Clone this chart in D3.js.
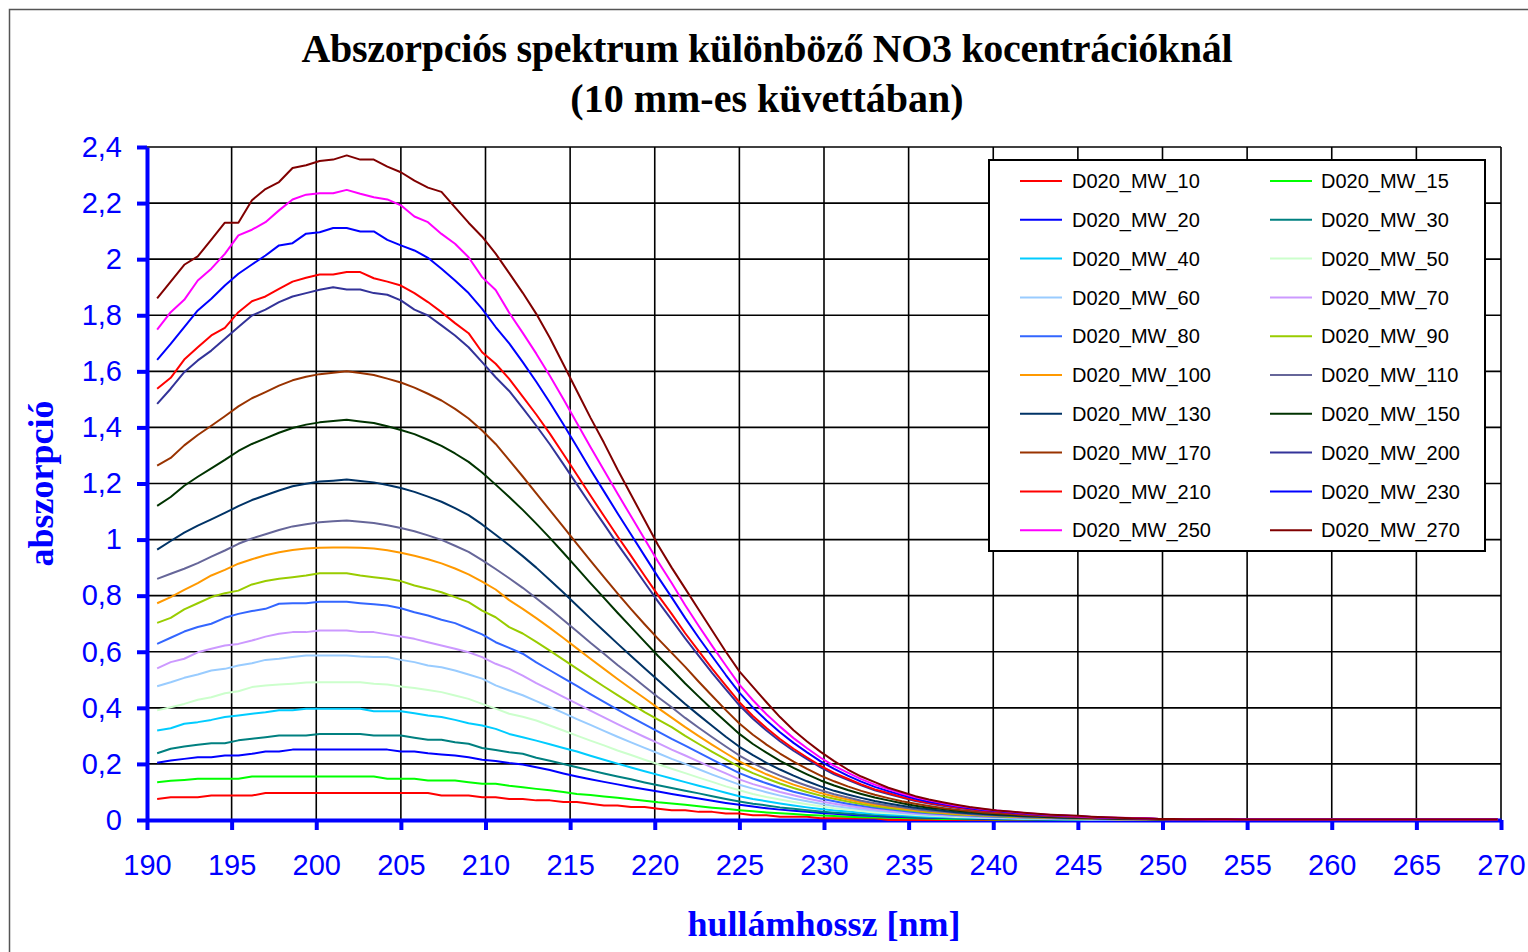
<!DOCTYPE html>
<html>
<head>
<meta charset="utf-8">
<script src="https://cdn.jsdelivr.net/npm/d3@7"></script>
<style>
  body { margin: 0; background: #fff; }
  svg { display: block; }
</style>
</head>
<body>
<svg id="chart"></svg>
<script>
// sample wavelengths of the spectrometer [nm]
const wavelengths = [
  190.6,191.4,192.2,193.0,193.8,194.6,195.4,196.2,197.0,197.8,
  198.6,199.4,200.2,201.0,201.8,202.6,203.4,204.2,205.0,205.8,
  206.6,207.4,208.2,209.0,209.8,210.6,211.4,212.2,213.0,213.8,
  214.6,215.4,216.2,217.0,217.8,218.6,219.4,220.2,221.0,221.8,
  222.6,223.4,224.2,225.0,225.8,226.6,227.4,228.2,229.0,229.8,
  230.6,231.4,232.2,233.0,233.8,234.6,235.4,236.2,237.0,237.8,
  238.6,239.4,240.2,241.0,241.8,242.6,243.4,244.2,245.0,245.8,
  246.6,247.4,248.2,249.0,249.8,250.6,251.4,252.2,253.0,253.8,
  254.6,255.4,256.2,257.0,257.8,258.6,259.4,260.2,261.0,261.8,
  262.6,263.4,264.2,265.0,265.8,266.6,267.4,268.2,269.0,269.8
];

const d10 = [
  0.075,0.081,0.081,0.081,0.087,0.087,0.087,0.087,0.096,0.096,
  0.096,0.096,0.096,0.096,0.096,0.096,0.096,0.096,0.096,0.096,
  0.096,0.087,0.087,0.087,0.081,0.081,0.075,0.075,0.070,0.070,
  0.064,0.064,0.058,0.052,0.052,0.046,0.046,0.040,0.035,0.035,
  0.029,0.029,0.023,0.023,0.017,0.017,0.012,0.012,0.012,0.006,
  0.006,0.006,0.006,0.006,0,0,0,0,0,0,
  0,0,0,0,0,0,0,0,0,0,
  0,0,0,0,0,0,0,0,0,0,
  0,0,0,0,0,0,0,0,0,0,
  0,0,0,0,0,0,0,0,0,0
];
const d15 = [
  0.135,0.140,0.143,0.147,0.147,0.147,0.147,0.155,0.155,0.155,
  0.155,0.155,0.155,0.155,0.155,0.155,0.155,0.147,0.147,0.147,
  0.141,0.141,0.141,0.135,0.129,0.129,0.122,0.117,0.111,0.106,
  0.100,0.093,0.089,0.084,0.079,0.074,0.069,0.063,0.059,0.054,
  0.049,0.044,0.040,0.035,0.031,0.027,0.024,0.021,0.018,0.016,
  0.014,0.012,0.010,0.009,0.008,0.007,0.006,0.005,0.004,0.004,
  0.003,0.003,0.002,0.002,0.002,0.001,0.001,0.001,0.001,0.001,
  0,0,0,0,0,0,0,0,0,0,
  0,0,0,0,0,0,0,0,0,0,
  0,0,0,0,0,0,0,0,0,0
];
const d20 = [
  0.204,0.212,0.218,0.224,0.224,0.230,0.230,0.236,0.244,0.244,
  0.251,0.251,0.251,0.251,0.251,0.251,0.251,0.251,0.244,0.244,
  0.238,0.234,0.230,0.224,0.215,0.210,0.203,0.198,0.188,0.178,
  0.166,0.155,0.145,0.136,0.127,0.118,0.110,0.102,0.093,0.085,
  0.077,0.069,0.061,0.054,0.048,0.042,0.037,0.033,0.029,0.025,
  0.022,0.019,0.016,0.014,0.012,0.011,0.009,0.008,0.007,0.006,
  0.005,0.004,0.004,0.003,0.003,0.002,0.002,0.002,0.002,0.001,
  0.001,0.001,0.001,0.001,0.001,0,0,0,0,0,
  0,0,0,0,0,0,0,0,0,0,
  0,0,0,0,0,0,0,0,0,0
];
const d30 = [
  0.238,0.254,0.262,0.268,0.274,0.274,0.284,0.290,0.295,0.301,
  0.301,0.301,0.307,0.307,0.307,0.307,0.301,0.301,0.301,0.293,
  0.286,0.286,0.277,0.272,0.257,0.250,0.242,0.236,0.222,0.211,
  0.200,0.188,0.177,0.166,0.155,0.145,0.134,0.124,0.114,0.104,
  0.095,0.085,0.075,0.066,0.058,0.052,0.045,0.040,0.035,0.030,
  0.026,0.023,0.020,0.017,0.015,0.013,0.011,0.010,0.008,0.007,
  0.006,0.005,0.005,0.004,0.003,0.003,0.002,0.002,0.002,0.002,
  0.001,0.001,0.001,0.001,0.001,0,0,0,0,0,
  0,0,0,0,0,0,0,0,0,0,
  0,0,0,0,0,0,0,0,0,0
];
const d40 = [
  0.319,0.327,0.343,0.349,0.357,0.367,0.373,0.379,0.384,0.391,
  0.391,0.397,0.397,0.397,0.397,0.397,0.388,0.388,0.388,0.381,
  0.373,0.367,0.357,0.345,0.337,0.325,0.307,0.295,0.283,0.270,
  0.257,0.244,0.229,0.215,0.201,0.187,0.174,0.161,0.148,0.135,
  0.122,0.110,0.097,0.085,0.075,0.067,0.059,0.052,0.045,0.039,
  0.034,0.030,0.026,0.022,0.019,0.017,0.014,0.012,0.011,0.009,
  0.008,0.007,0.006,0.005,0.004,0.004,0.003,0.003,0.002,0.002,
  0.002,0.001,0.001,0.001,0.001,0,0,0,0,0,
  0,0,0,0,0,0,0,0,0,0,
  0,0,0,0,0,0,0,0,0,0
];
const d50 = [
  0.391,0.402,0.414,0.429,0.438,0.452,0.459,0.474,0.480,0.483,
  0.486,0.490,0.491,0.491,0.491,0.491,0.486,0.483,0.476,0.471,
  0.464,0.456,0.444,0.432,0.414,0.397,0.379,0.368,0.355,0.337,
  0.319,0.301,0.283,0.266,0.248,0.232,0.215,0.199,0.183,0.167,
  0.151,0.136,0.120,0.106,0.093,0.082,0.073,0.064,0.056,0.049,
  0.042,0.037,0.032,0.027,0.024,0.021,0.018,0.015,0.013,0.011,
  0.010,0.008,0.007,0.006,0.005,0.005,0.004,0.003,0.003,0.002,
  0.002,0.002,0.001,0.001,0.001,0,0,0,0,0,
  0,0,0,0,0,0,0,0,0,0,
  0,0,0,0,0,0,0,0,0,0
];
const d60 = [
  0.477,0.491,0.507,0.519,0.533,0.539,0.551,0.559,0.571,0.575,
  0.581,0.587,0.587,0.587,0.587,0.583,0.581,0.581,0.571,0.563,
  0.551,0.545,0.533,0.519,0.504,0.480,0.462,0.445,0.424,0.403,
  0.382,0.360,0.339,0.318,0.297,0.277,0.257,0.238,0.218,0.200,
  0.181,0.162,0.144,0.126,0.112,0.099,0.087,0.076,0.067,0.058,
  0.050,0.044,0.038,0.033,0.029,0.025,0.021,0.018,0.016,0.014,
  0.012,0.010,0.009,0.008,0.006,0.006,0.005,0.004,0.004,0.003,
  0.002,0.002,0.002,0.001,0.001,0,0,0,0,0,
  0,0,0,0,0,0,0,0,0,0,
  0,0,0,0,0,0,0,0,0,0
];
const d70 = [
  0.541,0.563,0.575,0.598,0.611,0.622,0.628,0.640,0.654,0.664,
  0.670,0.670,0.676,0.676,0.676,0.670,0.670,0.662,0.654,0.646,
  0.634,0.622,0.611,0.598,0.581,0.557,0.539,0.515,0.488,0.464,
  0.439,0.415,0.390,0.366,0.342,0.319,0.296,0.274,0.251,0.230,
  0.208,0.187,0.166,0.145,0.128,0.114,0.100,0.088,0.077,0.067,
  0.058,0.051,0.044,0.038,0.033,0.028,0.024,0.021,0.018,0.016,
  0.014,0.011,0.010,0.009,0.007,0.006,0.005,0.005,0.004,0.003,
  0.003,0.002,0.002,0.002,0.001,0,0,0,0,0,
  0,0,0,0,0,0,0,0,0,0,
  0,0,0,0,0,0,0,0,0,0
];
const d80 = [
  0.628,0.650,0.672,0.688,0.700,0.721,0.735,0.745,0.753,0.771,
  0.773,0.773,0.778,0.778,0.778,0.773,0.769,0.765,0.755,0.741,
  0.729,0.714,0.702,0.682,0.662,0.634,0.614,0.593,0.562,0.534,
  0.506,0.478,0.449,0.421,0.394,0.367,0.341,0.315,0.289,0.265,
  0.240,0.215,0.191,0.167,0.148,0.131,0.115,0.101,0.089,0.077,
  0.067,0.058,0.051,0.044,0.038,0.033,0.028,0.024,0.021,0.018,
  0.016,0.013,0.012,0.010,0.009,0.007,0.006,0.005,0.005,0.004,
  0.003,0.003,0.002,0.002,0.002,0,0,0,0,0,
  0,0,0,0,0,0,0,0,0,0,
  0,0,0,0,0,0,0,0,0,0
];
const d90 = [
  0.703,0.721,0.751,0.773,0.795,0.809,0.818,0.840,0.852,0.860,
  0.866,0.872,0.880,0.880,0.880,0.872,0.866,0.860,0.852,0.836,
  0.825,0.812,0.795,0.777,0.747,0.723,0.688,0.665,0.635,0.604,
  0.572,0.540,0.508,0.476,0.445,0.415,0.385,0.358,0.331,0.300,
  0.271,0.243,0.216,0.189,0.167,0.148,0.130,0.114,0.100,0.087,
  0.076,0.066,0.057,0.049,0.043,0.037,0.032,0.027,0.024,0.020,
  0.018,0.015,0.013,0.011,0.010,0.008,0.007,0.006,0.005,0.004,
  0.004,0.003,0.003,0.002,0.002,0,0,0,0,0,
  0,0,0,0,0,0,0,0,0,0,
  0,0,0,0,0,0,0,0,0,0
];
const d100 = [
  0.773,0.795,0.821,0.845,0.872,0.892,0.914,0.930,0.944,0.955,
  0.963,0.968,0.971,0.972,0.972,0.971,0.968,0.962,0.953,0.942,
  0.930,0.915,0.897,0.876,0.850,0.822,0.784,0.753,0.720,0.685,
  0.649,0.612,0.575,0.539,0.503,0.468,0.434,0.399,0.365,0.331,
  0.299,0.268,0.238,0.209,0.185,0.163,0.144,0.126,0.111,0.096,
  0.084,0.073,0.063,0.054,0.048,0.041,0.035,0.030,0.026,0.022,
  0.019,0.017,0.015,0.013,0.011,0.009,0.008,0.007,0.006,0.005,
  0.004,0.003,0.003,0.002,0.002,0.001,0.001,0.001,0.001,0.001,
  0,0,0,0,0,0,0,0,0,0,
  0,0,0,0,0,0,0,0,0,0
];
const d110 = [
  0.860,0.878,0.896,0.916,0.939,0.961,0.985,1.004,1.019,1.034,
  1.047,1.055,1.062,1.065,1.068,1.064,1.059,1.051,1.041,1.030,
  1.015,0.999,0.978,0.956,0.927,0.895,0.862,0.828,0.791,0.753,
  0.713,0.673,0.632,0.593,0.553,0.515,0.476,0.438,0.402,0.364,
  0.329,0.295,0.262,0.230,0.203,0.179,0.158,0.139,0.122,0.106,
  0.092,0.080,0.069,0.060,0.052,0.045,0.038,0.033,0.029,0.025,
  0.021,0.018,0.016,0.014,0.012,0.010,0.009,0.007,0.006,0.005,
  0.004,0.004,0.003,0.003,0.002,0.001,0.001,0.001,0.001,0.001,
  0,0,0,0,0,0,0,0,0,0,
  0,0,0,0,0,0,0,0,0,0
];
const d130 = [
  0.964,0.995,1.025,1.050,1.072,1.095,1.119,1.141,1.158,1.175,
  1.190,1.199,1.207,1.210,1.214,1.209,1.204,1.195,1.184,1.170,
  1.153,1.135,1.112,1.087,1.054,1.017,0.980,0.941,0.900,0.856,
  0.811,0.765,0.719,0.674,0.629,0.585,0.541,0.498,0.456,0.414,
  0.374,0.335,0.297,0.261,0.231,0.204,0.180,0.158,0.138,0.120,
  0.104,0.091,0.079,0.068,0.059,0.051,0.044,0.038,0.033,0.028,
  0.024,0.021,0.018,0.016,0.013,0.012,0.010,0.008,0.007,0.006,
  0.005,0.004,0.004,0.003,0.002,0.001,0.001,0.001,0.001,0.001,
  0.001,0.001,0.001,0.001,0.001,0.001,0.001,0.001,0.001,0.001,
  0.001,0.001,0.001,0.001,0.001,0.001,0.001,0.001,0.001,0.001
];
const d150 = [
  1.120,1.152,1.192,1.224,1.254,1.284,1.316,1.341,1.361,1.381,
  1.398,1.410,1.418,1.423,1.427,1.421,1.416,1.404,1.391,1.376,
  1.356,1.334,1.307,1.277,1.239,1.196,1.152,1.106,1.057,1.006,
  0.953,0.899,0.845,0.792,0.739,0.688,0.636,0.585,0.537,0.487,
  0.440,0.394,0.350,0.307,0.271,0.240,0.211,0.186,0.163,0.141,
  0.123,0.107,0.093,0.080,0.070,0.060,0.051,0.044,0.039,0.033,
  0.029,0.024,0.021,0.019,0.016,0.014,0.011,0.010,0.009,0.007,
  0.006,0.005,0.004,0.004,0.003,0.002,0.002,0.002,0.001,0.001,
  0.001,0.001,0.001,0.001,0.001,0.001,0.001,0.001,0.001,0.001,
  0.001,0.001,0.001,0.001,0.001,0.001,0.001,0.001,0.001,0.001
];
const d170 = [
  1.264,1.291,1.336,1.373,1.406,1.440,1.475,1.504,1.526,1.549,
  1.568,1.581,1.590,1.595,1.600,1.594,1.587,1.574,1.560,1.542,
  1.520,1.496,1.466,1.432,1.389,1.341,1.283,1.225,1.165,1.105,
  1.045,0.985,0.925,0.866,0.808,0.752,0.698,0.646,0.596,0.546,
  0.493,0.442,0.392,0.344,0.304,0.269,0.237,0.208,0.182,0.158,
  0.138,0.120,0.104,0.090,0.078,0.067,0.058,0.050,0.043,0.037,
  0.032,0.027,0.024,0.021,0.018,0.015,0.013,0.011,0.010,0.008,
  0.006,0.006,0.005,0.004,0.003,0.002,0.002,0.002,0.001,0.001,
  0.001,0.001,0.001,0.001,0.001,0.001,0.001,0.001,0.001,0.001,
  0.001,0.001,0.001,0.001,0.001,0.001,0.001,0.001,0.001,0.001
];
const d200 = [
  1.484,1.538,1.597,1.639,1.674,1.716,1.758,1.799,1.820,1.847,
  1.867,1.879,1.891,1.900,1.892,1.892,1.879,1.873,1.853,1.820,
  1.799,1.764,1.728,1.686,1.633,1.579,1.530,1.469,1.406,1.340,
  1.269,1.197,1.125,1.055,0.984,0.916,0.847,0.779,0.714,0.648,
  0.585,0.524,0.466,0.409,0.361,0.319,0.281,0.247,0.217,0.188,
  0.163,0.143,0.124,0.106,0.093,0.080,0.068,0.059,0.051,0.044,
  0.038,0.032,0.029,0.025,0.021,0.018,0.015,0.013,0.011,0.010,
  0.008,0.007,0.006,0.005,0.004,0.003,0.003,0.002,0.002,0.002,
  0.002,0.002,0.002,0.002,0.002,0.002,0.002,0.002,0.002,0.002,
  0.002,0.002,0.002,0.002,0.002,0.002,0.002,0.002,0.002,0.002
];
const d210 = [
  1.538,1.577,1.642,1.686,1.728,1.755,1.811,1.850,1.867,1.894,
  1.920,1.934,1.945,1.945,1.954,1.954,1.932,1.920,1.906,1.879,
  1.847,1.811,1.772,1.736,1.668,1.627,1.573,1.510,1.446,1.378,
  1.305,1.231,1.157,1.084,1.012,0.942,0.871,0.801,0.735,0.666,
  0.602,0.539,0.479,0.420,0.371,0.328,0.289,0.254,0.223,0.193,
  0.168,0.147,0.127,0.109,0.096,0.082,0.070,0.061,0.053,0.045,
  0.039,0.033,0.029,0.025,0.021,0.019,0.016,0.014,0.012,0.010,
  0.008,0.007,0.006,0.005,0.004,0.003,0.003,0.002,0.002,0.002,
  0.002,0.002,0.002,0.002,0.002,0.002,0.002,0.002,0.002,0.002,
  0.002,0.002,0.002,0.002,0.002,0.002,0.002,0.002,0.002,0.002
];
const d230 = [
  1.641,1.698,1.758,1.817,1.859,1.906,1.948,1.981,2.013,2.049,
  2.057,2.091,2.096,2.111,2.111,2.099,2.099,2.069,2.049,2.031,
  2.005,1.966,1.924,1.879,1.823,1.758,1.700,1.633,1.563,1.489,
  1.411,1.331,1.250,1.172,1.094,1.018,0.942,0.866,0.794,0.720,
  0.650,0.583,0.517,0.454,0.401,0.355,0.313,0.275,0.241,0.209,
  0.182,0.158,0.137,0.118,0.103,0.089,0.076,0.065,0.057,0.049,
  0.042,0.036,0.032,0.027,0.023,0.020,0.017,0.015,0.013,0.011,
  0.008,0.007,0.006,0.005,0.004,0.003,0.003,0.002,0.002,0.002,
  0.002,0.002,0.002,0.002,0.002,0.002,0.002,0.002,0.002,0.002,
  0.002,0.002,0.002,0.002,0.002,0.002,0.002,0.002,0.002,0.002
];
const d250 = [
  1.749,1.811,1.855,1.924,1.966,2.019,2.085,2.105,2.132,2.174,
  2.213,2.230,2.235,2.235,2.247,2.233,2.221,2.213,2.192,2.152,
  2.132,2.090,2.055,2.007,1.936,1.890,1.809,1.737,1.663,1.584,
  1.501,1.416,1.330,1.247,1.164,1.083,1.002,0.921,0.845,0.766,
  0.692,0.620,0.551,0.483,0.427,0.377,0.333,0.292,0.256,0.222,
  0.193,0.169,0.146,0.126,0.110,0.094,0.081,0.070,0.061,0.052,
  0.045,0.038,0.034,0.029,0.025,0.021,0.018,0.016,0.013,0.011,
  0.009,0.008,0.007,0.006,0.004,0.003,0.003,0.003,0.002,0.002,
  0.002,0.002,0.002,0.002,0.002,0.002,0.002,0.002,0.002,0.002,
  0.002,0.002,0.002,0.002,0.002,0.002,0.002,0.002,0.002,0.002
];
const d270 = [
  1.860,1.920,1.980,2.010,2.070,2.130,2.130,2.210,2.250,2.275,
  2.325,2.335,2.350,2.355,2.370,2.355,2.355,2.330,2.310,2.280,
  2.255,2.240,2.185,2.130,2.080,2.020,1.950,1.880,1.805,1.720,
  1.625,1.530,1.435,1.345,1.250,1.160,1.070,0.980,0.900,0.825,
  0.750,0.675,0.600,0.530,0.475,0.420,0.367,0.320,0.280,0.243,
  0.210,0.180,0.155,0.135,0.115,0.100,0.085,0.073,0.063,0.054,
  0.046,0.040,0.034,0.030,0.026,0.022,0.019,0.017,0.015,0.012,
  0.010,0.008,0.006,0.005,0.004,0.004,0.003,0.003,0.003,0.003,
  0.002,0.002,0.002,0.002,0.002,0.002,0.002,0.002,0.002,0.002,
  0.002,0.002,0.002,0.002,0.002,0.002,0.002,0.002,0.002,0.002
];

const seriesNames = [
  'D020_MW_10', 'D020_MW_15', 'D020_MW_20', 'D020_MW_30', 'D020_MW_40',
  'D020_MW_50', 'D020_MW_60', 'D020_MW_70', 'D020_MW_80', 'D020_MW_90',
  'D020_MW_100', 'D020_MW_110', 'D020_MW_130', 'D020_MW_150', 'D020_MW_170',
  'D020_MW_200', 'D020_MW_210', 'D020_MW_230', 'D020_MW_250', 'D020_MW_270'
];
const seriesValues = [d10, d15, d20, d30, d40, d50, d60, d70, d80, d90,
  d100, d110, d130, d150, d170, d200, d210, d230, d250, d270];
const seriesColors = [
  '#FF0000', '#00FF00', '#0000FF', '#008080', '#00CCFF',
  '#CCFFCC', '#99CCFF', '#CC99FF', '#3366FF', '#99CC00',
  '#FF9900', '#666699', '#003366', '#003300', '#993300',
  '#333399', '#FF0000', '#0000FF', '#FF00FF', '#800000'
];

const xTicks = [190, 195, 200, 205, 210, 215, 220, 225, 230, 235, 240, 245, 250, 255, 260, 265, 270];
const yTicks = [0, 0.2, 0.4, 0.6, 0.8, 1, 1.2, 1.4, 1.6, 1.8, 2, 2.2, 2.4];

const titleLines = ['Abszorpciós spektrum különböző NO3 kocentrációknál', '(10 mm-es küvettában)'];
const xTitle = 'hullámhossz [nm]';
const yTitle = 'abszorpció';

class spectrumChart {

    constructor(_config) {
        this.config = {
            parentElement: _config.parentElement,
            containerWidth: _config.containerWidth || 1528,
            containerHeight: _config.containerHeight || 952,
        }
        this.config.margin = _config.margin || { top: 147, right: 27, bottom: 132, left: 147 };

        this.series = _config.series;

        this.width = this.config.containerWidth - this.config.margin.left - this.config.margin.right;
        this.height = this.config.containerHeight - this.config.margin.top - this.config.margin.bottom;

        this.svg = d3.select(this.config.parentElement)
            .attr('width', this.config.containerWidth)
            .attr('height', this.config.containerHeight);

        this.initVis();
    }

    initVis() {
        let vis = this;

        vis.xScale = d3.scaleLinear().domain([190, 270]).range([0, vis.width]);
        vis.yScale = d3.scaleLinear().domain([0, 2.4]).range([vis.height, 0]);

        // thin frame of the whole chart area
        vis.svg.append('rect')
            .attr('x', 9.5).attr('y', 9.5)
            .attr('width', 1540).attr('height', 960)
            .attr('fill', 'none')
            .attr('stroke', '#555')
            .attr('stroke-width', 1.5);

        vis.chart = vis.svg.append('g')
            .attr('transform', `translate(${vis.config.margin.left},${vis.config.margin.top})`);

        vis.render();
    }

    render() {
        let vis = this;
        const sans = "'Liberation Sans', Arial, sans-serif";
        const serif = "'Liberation Serif', 'Times New Roman', serif";

        // grid
        vis.chart.append('g').selectAll('line')
            .data(xTicks.slice(1))
            .join('line')
            .attr('x1', d => vis.xScale(d)).attr('x2', d => vis.xScale(d))
            .attr('y1', 0).attr('y2', vis.height)
            .attr('stroke', '#000').attr('stroke-width', 1.6);

        vis.chart.append('g').selectAll('line')
            .data(yTicks.slice(1))
            .join('line')
            .attr('x1', 0).attr('x2', vis.width)
            .attr('y1', d => vis.yScale(d)).attr('y2', d => vis.yScale(d))
            .attr('stroke', '#000').attr('stroke-width', 1.6);

        // axes
        let yAxis = d3.axisLeft(vis.yScale)
            .tickValues(yTicks)
            .tickSize(10)
            .tickSizeOuter(0)
            .tickPadding(15)
            .tickFormat(d => d3.format('.1~f')(d).replace('.', ','));

        let xAxis = d3.axisBottom(vis.xScale)
            .tickValues(xTicks)
            .tickSize(10)
            .tickSizeOuter(0)
            .tickPadding(24)
            .tickFormat(d3.format('d'));

        let styleAxis = g => {
            g.select('.domain').attr('stroke', '#0000FF').attr('stroke-width', 4);
            g.selectAll('.tick line').attr('stroke', '#0000FF').attr('stroke-width', 4);
            g.selectAll('.tick text')
                .attr('fill', '#0000FF')
                .style('font-family', sans)
                .style('font-size', '29px');
        };

        vis.chart.append('g').call(yAxis).call(styleAxis);
        vis.chart.append('g')
            .attr('transform', `translate(0,${vis.height})`)
            .call(xAxis).call(styleAxis);

        // spectra, drawn in legend order so D020_MW_270 ends on top
        let line = d3.line()
            .x((d, i) => vis.xScale(wavelengths[i]))
            .y(d => vis.yScale(d));

        vis.chart.append('g').selectAll('path')
            .data(vis.series)
            .join('path')
            .attr('d', d => line(d.values.slice(0, wavelengths.length)))
            .attr('fill', 'none')
            .attr('stroke', d => d.color)
            .attr('stroke-width', 2)
            .attr('stroke-linejoin', 'round');

        // titles
        vis.svg.append('g').selectAll('text')
            .data(titleLines)
            .join('text')
            .attr('x', 767)
            .attr('y', (d, i) => 62 + i * 50)
            .attr('text-anchor', 'middle')
            .attr('textLength', (d, i) => i === 0 ? 931 : null)
            .attr('lengthAdjust', 'spacing')
            .style('font-family', serif)
            .style('font-weight', 'bold')
            .style('font-size', '40px')
            .attr('fill', '#000')
            .text(d => d);

        vis.svg.append('text')
            .attr('x', vis.config.margin.left + vis.width / 2)
            .attr('y', 936)
            .attr('text-anchor', 'middle')
            .style('font-family', serif)
            .style('font-weight', 'bold')
            .style('font-size', '36px')
            .attr('fill', '#0000FF')
            .text(xTitle);

        vis.svg.append('text')
            .attr('transform', `translate(53,${vis.config.margin.top + vis.height / 2}) rotate(-90)`)
            .attr('text-anchor', 'middle')
            .style('font-family', serif)
            .style('font-weight', 'bold')
            .style('font-size', '36px')
            .attr('fill', '#0000FF')
            .text(yTitle);

        // legend box, two columns
        let legend = vis.svg.append('g').attr('transform', 'translate(989,160)');
        legend.append('rect')
            .attr('width', 496).attr('height', 391)
            .attr('fill', '#fff')
            .attr('stroke', '#000')
            .attr('stroke-width', 2);

        let items = legend.selectAll('.legend-item')
            .data(vis.series)
            .join('g')
            .attr('class', 'legend-item')
            .attr('transform', (d, i) => `translate(${i % 2 === 0 ? 31 : 281},${21 + Math.floor(i / 2) * 38.8})`);

        items.append('line')
            .attr('x1', 0).attr('x2', 42)
            .attr('stroke', d => d.color)
            .attr('stroke-width', 2);

        items.append('text')
            .attr('x', (d, i) => i % 2 === 0 ? 52 : 51)
            .attr('dy', '0.36em')
            .style('font-family', sans)
            .style('font-size', '20px')
            .attr('fill', '#000')
            .text(d => d.name);
    }
}

let series = seriesNames.map((name, i) => ({ name: name, color: seriesColors[i], values: seriesValues[i] }));

new spectrumChart({ parentElement: '#chart', series: series });
</script>
</body>
</html>
